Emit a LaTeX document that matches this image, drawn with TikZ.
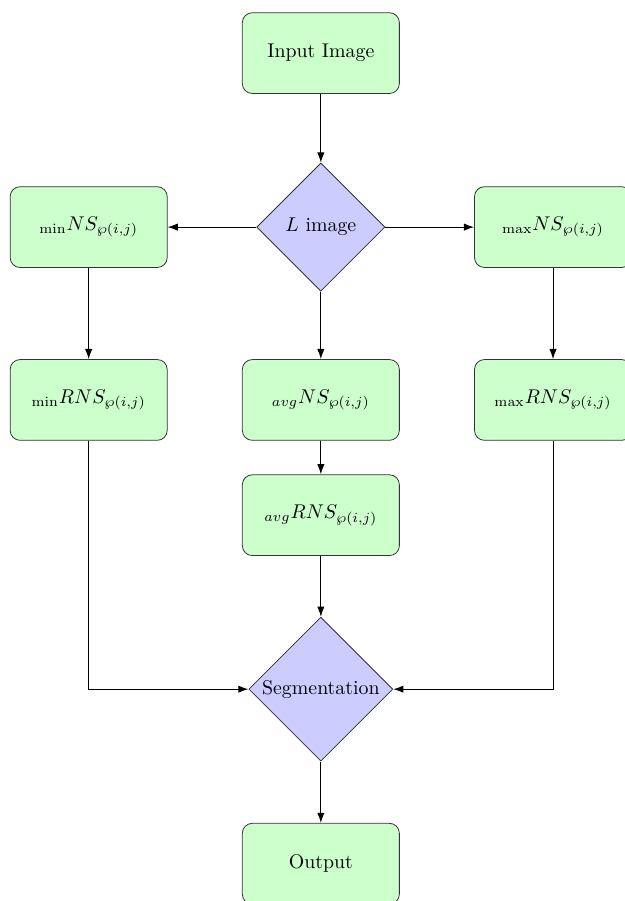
\documentclass[tikz,border=0pt]{standalone}
\usepackage{amsmath}
\usepackage{amssymb}
\usepackage{tikz}
\usetikzlibrary{arrows.meta,shapes.geometric}

\tikzset{
  block/.style={rectangle,draw=black!80,fill=green!20,rounded corners=5pt,
                minimum width=2.78cm,minimum height=1.43cm,align=center},
  decision/.style={diamond,draw=black!80,fill=blue!20,inner sep=0pt,
                   minimum width=2.27cm,minimum height=2.27cm},
  line/.style={draw,-{Latex[length=1.8mm,width=1.3mm]},line width=0.5pt}
}

\begin{document}
\begin{tikzpicture}[x=1cm,y=1cm]
  \useasboundingbox (-5.68,0.94) rectangle (5.38,-15.01);
  % top
  \node[block] (input) at (0,0) {Input Image};
  \node[decision] (limg) at (0,-3.08) {$L$ image};
  % first row
  \node[block] (minns) at (-4.11,-3.08) {${}_{\min}NS_{\wp(i,j)}$};
  \node[block] (maxns) at (4.11,-3.08) {${}_{\max}NS_{\wp(i,j)}$};
  % second row
  \node[block] (minrns) at (-4.11,-6.14) {${}_{\min}RNS_{\wp(i,j)}$};
  \node[block] (avgns) at (0,-6.14) {${}_{avg}NS_{\wp(i,j)}$};
  \node[block] (maxrns) at (4.11,-6.14) {${}_{\max}RNS_{\wp(i,j)}$};
  \node[block] (avgrns) at (0,-8.18) {${}_{avg}RNS_{\wp(i,j)}$};
  % bottom
  \node[decision,minimum width=2.55cm,minimum height=2.55cm] (seg) at (0,-11.26) {Segmentation};
  \node[block] (output) at (0,-14.35) {Output};
  % connectors
  \path[line] (input) -- (limg);
  \path[line] (limg) -- (minns);
  \path[line] (limg) -- (maxns);
  \path[line] (limg) -- (avgns);
  \path[line] (minns) -- (minrns);
  \path[line] (maxns) -- (maxrns);
  \path[line] (avgns) -- (avgrns);
  \path[line] (avgrns) -- (seg);
  \path[line] (minrns) |- (seg);
  \path[line] (maxrns) |- (seg);
  \path[line] (seg) -- (output);
\end{tikzpicture}
\end{document}
